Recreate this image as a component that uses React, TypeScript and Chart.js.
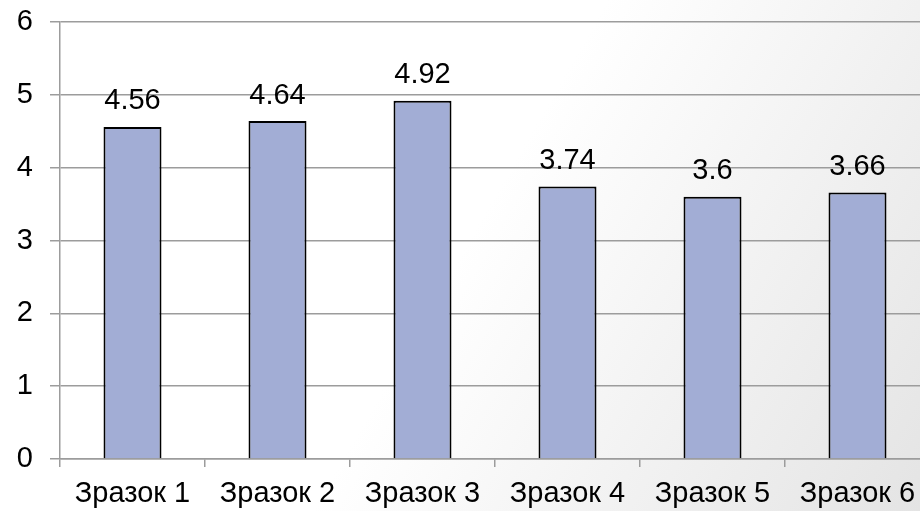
import React, { useEffect, useRef } from "react";
import { Chart, registerables } from "chart.js";

Chart.register(...registerables);

const categories = ["Зразок 1", "Зразок 2", "Зразок 3", "Зразок 4", "Зразок 5", "Зразок 6"];
const values = [4.56, 4.64, 4.92, 3.74, 3.6, 3.66];
const valueLabels = ["4.56", "4.64", "4.92", "3.74", "3.6", "3.66"];
const yMin = 0;
const yMax = 6;
const yStep = 1;

const FONT = "'Liberation Sans', Arial, sans-serif";
const GRID = "#9c9c9c";

const dataLabelPlugin = {
  id: "dataLabels",
  afterDatasetsDraw(chart: any) {
    const ctx = chart.ctx;
    const meta = chart.getDatasetMeta(0);
    ctx.save();
    ctx.font = `29px ${FONT}`;
    ctx.fillStyle = "#000";
    ctx.textAlign = "center";
    ctx.textBaseline = "alphabetic";
    meta.data.forEach((bar: any, i: number) => {
      ctx.fillText(valueLabels[i], bar.x, bar.y - 17.5);
    });
    ctx.restore();
  },
};

export default function App() {
  const ref = useRef<HTMLCanvasElement | null>(null);
  useEffect(() => {
    if (!ref.current) return;
    const chart = new Chart(ref.current, {
      type: "bar",
      data: {
        labels: categories,
        datasets: [
          {
            data: values,
            backgroundColor: "#a2add5",
            borderColor: "#000000",
            borderWidth: 2,
            barPercentage: 0.4,
            categoryPercentage: 1,
          },
        ],
      },
      options: {
        responsive: false,
        animation: false,
        devicePixelRatio: 1,
        layout: { padding: { left: 0, right: 10, top: 22, bottom: 0 } },
        plugins: { legend: { display: false }, tooltip: { enabled: false } },
        scales: {
          x: {
            afterFit: (s: any) => {
              s.height = 52;
              s.paddingLeft = 0;
              s.paddingRight = 0;
            },
            grid: {
              drawOnChartArea: false,
              drawTicks: true,
              tickLength: 8,
              offset: true,
              color: GRID,
              lineWidth: 1.5,
            },
            border: { color: GRID, width: 1.5 },
            ticks: {
              color: "#000",
              font: { family: FONT, size: 29 },
              padding: 10,
              maxRotation: 0,
              autoSkip: false,
            },
          },
          y: {
            min: yMin,
            max: yMax,
            afterFit: (s: any) => {
              s.width = 60;
              s.paddingTop = 0;
              s.paddingBottom = 0;
            },
            grid: {
              drawOnChartArea: true,
              drawTicks: true,
              tickLength: 10,
              color: GRID,
              lineWidth: 1.5,
            },
            border: { color: GRID, width: 1.5 },
            ticks: {
              stepSize: yStep,
              color: "#000",
              font: { family: FONT, size: 29 },
              padding: 17,
            },
          },
        },
      },
      plugins: [dataLabelPlugin],
    });
    return () => chart.destroy();
  }, []);

  return (
    <div
      style={{
        position: "fixed",
        left: 0,
        top: 0,
        width: 920,
        height: 511,
        overflow: "hidden",
        background: "linear-gradient(120deg, #ffffff 50%, #e4e4e4 100%)",
      }}
    >
      <canvas
        ref={ref}
        width={940}
        height={511}
        style={{ position: "absolute", left: 0, top: 0, width: 940, height: 511 }}
      />
    </div>
  );
}
